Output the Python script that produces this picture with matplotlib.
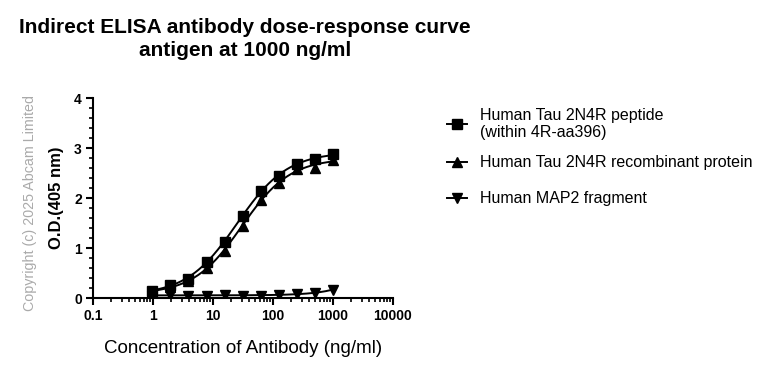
import numpy as np
import matplotlib
matplotlib.use('Agg')
import matplotlib.pyplot as plt
from matplotlib.ticker import FixedLocator, LogLocator, MultipleLocator, FixedFormatter

plt.rcParams['font.family'] = ['Liberation Sans', 'DejaVu Sans']

# Antibody concentration (ng/ml), 2-fold dilution series
conc = [0.98, 1.95, 3.9, 7.8, 15.6, 31.25, 62.5, 125, 250, 500, 1000]

# O.D. 405 nm readings
peptide = [0.15, 0.27, 0.39, 0.73, 1.12, 1.65, 2.15, 2.44, 2.68, 2.78, 2.88]
recombinant = [0.12, 0.23, 0.35, 0.61, 0.95, 1.44, 1.96, 2.30, 2.58, 2.60, 2.77]
map2 = [0.05, 0.06, 0.05, 0.05, 0.06, 0.05, 0.05, 0.07, 0.08, 0.10, 0.17]

labels = ['Human Tau 2N4R peptide\n(within 4R-aa396)',
          'Human Tau 2N4R recombinant protein',
          'Human MAP2 fragment']
markers = ['s', '^', 'v']

x_ticks = [0.1, 1, 10, 100, 1000, 10000]
x_ticklabels = ['0.1', '1', '10', '100', '1000', '10000']


def fit_4pl(x, y):
    # crude 4PL fit: grid over EC50 and hill, bottom/top by least squares
    x = np.asarray(x, float)
    y = np.asarray(y, float)
    best = None
    for logc in np.arange(-1, 5, 0.01):
        for h in np.arange(0.3, 3.0, 0.02):
            s = 1.0 / (1.0 + (10**logc / x)**h)
            A = np.column_stack([np.ones_like(s), s])
            coef, *_ = np.linalg.lstsq(A, y, rcond=None)
            err = np.sum((A @ coef - y)**2)
            if best is None or err < best[0]:
                best = (err, logc, h, coef)
    _, logc, h, coef = best
    return lambda xx: coef[0] + coef[1] / (1.0 + (10**logc / xx)**h)


fig = plt.figure(figsize=(7.71, 3.73), dpi=100)
ax = fig.add_axes([93/771, 1-298/373, 300/771, 200/373])

xs = np.logspace(np.log10(conc[0]), np.log10(conc[-1]), 200)
for y, m in zip([peptide, recombinant, map2], markers):
    f = fit_4pl(conc, y)
    ax.plot(xs, f(xs), color='black', lw=1.4)
    ax.plot(conc, y, linestyle='none', marker=m, color='black', markersize=6.5)

ax.set_xscale('log')
ax.set_xlim(0.1, 10000)
ax.set_ylim(0, 4)
ax.xaxis.set_major_locator(FixedLocator(x_ticks))
ax.xaxis.set_major_formatter(FixedFormatter(x_ticklabels))
ax.xaxis.set_minor_locator(LogLocator(base=10, subs=np.arange(2, 10)))
ax.yaxis.set_major_locator(MultipleLocator(1))
ax.yaxis.set_minor_locator(MultipleLocator(0.2))
for s in ['top', 'right']:
    ax.spines[s].set_visible(False)
for s in ['left', 'bottom']:
    ax.spines[s].set_linewidth(1.5)
ax.tick_params(which='major', length=5, width=1.5, labelsize=10, pad=3)
ax.tick_params(which='minor', length=3, width=1.2)
for t in ax.get_xticklabels() + ax.get_yticklabels():
    t.set_fontweight('bold')

ax.set_xlabel('Concentration of Antibody (ng/ml)', fontsize=13.5, labelpad=12)
ax.set_ylabel('O.D.(405 nm)', fontsize=12, fontweight='bold', labelpad=7)

fig.text(245/771, 1-18/373, 'Indirect ELISA antibody dose-response curve\nantigen at 1000 ng/ml',
         ha='center', va='top', fontsize=15, fontweight='bold', linespacing=1.3)

fig.text(30/771, 1-203/373, 'Copyright (c) 2025 Abcam Limited', rotation=90,
         ha='center', va='center', fontsize=10.3, color='#aaaaaa')

# legend drawn by hand
lax = fig.add_axes([0, 0, 1, 1])
lax.set_xlim(0, 771)
lax.set_ylim(373, 0)
lax.axis('off')
for yy, m, lab in zip([124, 162, 198], markers, labels):
    lax.plot([447, 467], [yy, yy], color='black', lw=1.4)
    lax.plot([457], [yy], marker=m, color='black', markersize=6.5)
    lax.text(480, yy, lab, ha='left', va='center', fontsize=11.5, linespacing=1.2)

fig.savefig('out.png', dpi=100)
